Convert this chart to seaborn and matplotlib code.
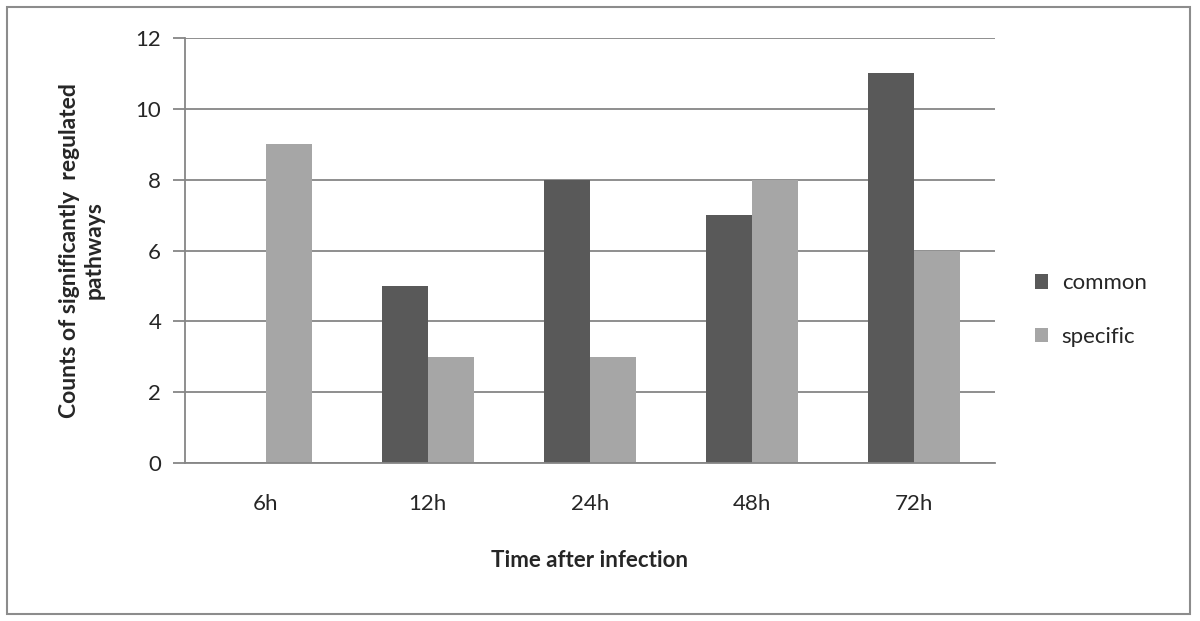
import pandas as pd
import seaborn as sns
import matplotlib.pyplot as plt
from matplotlib.patches import Rectangle

times = ["6h", "12h", "24h", "48h", "72h"]
common = [0, 5, 8, 7, 11]
specific = [9, 3, 3, 8, 6]

df = pd.DataFrame({
    "time": times * 2,
    "count": common + specific,
    "group": ["common"] * len(times) + ["specific"] * len(times),
})

sns.set_style("white")
plt.rcParams["font.family"] = ["Lato", "DejaVu Sans"]

fig = plt.figure(figsize=(12, 6.21), dpi=100)
ax = fig.add_axes([0.154, 0.2544, 0.675, 0.6844])

sns.barplot(data=df, x="time", y="count", hue="group", order=times,
            palette={"common": "#595959", "specific": "#a6a6a6"},
            width=0.57, saturation=1, linewidth=0, ax=ax, legend=True)

ax.set_ylim(0, 12)
ax.set_yticks(range(0, 13, 2))
ax.yaxis.grid(True, color="#868686", linewidth=1.3)
ax.set_axisbelow(True)
for s in ["top", "right"]:
    ax.spines[s].set_visible(False)
ax.spines["left"].set_color("#868686")
ax.spines["left"].set_linewidth(1.3)
ax.spines["bottom"].set_color("#868686")
ax.spines["bottom"].set_linewidth(1.3)
ax.tick_params(axis="y", length=9, width=1.3, color="#868686", labelsize=16, pad=8, left=True)
ax.tick_params(axis="x", length=0, labelsize=16, pad=22)

ax.set_xlabel("Time after infection", fontsize=16, fontweight="bold", labelpad=26)
ax.set_ylabel("Counts of significantly  regulated\npathways", fontsize=16.5,
              fontweight="bold", labelpad=22)

leg = ax.legend(loc="center left", bbox_to_anchor=(1.025, 0.36), frameon=False,
                fontsize=16, handlelength=0.6, handleheight=0.6,
                labelspacing=1.5, handletextpad=0.6)

fig.patches.append(Rectangle((0.006, 0.012), 0.986, 0.976, transform=fig.transFigure,
                             fill=False, edgecolor="#8c8c8c", linewidth=1.5))

fig.savefig("out.png", dpi=100)
